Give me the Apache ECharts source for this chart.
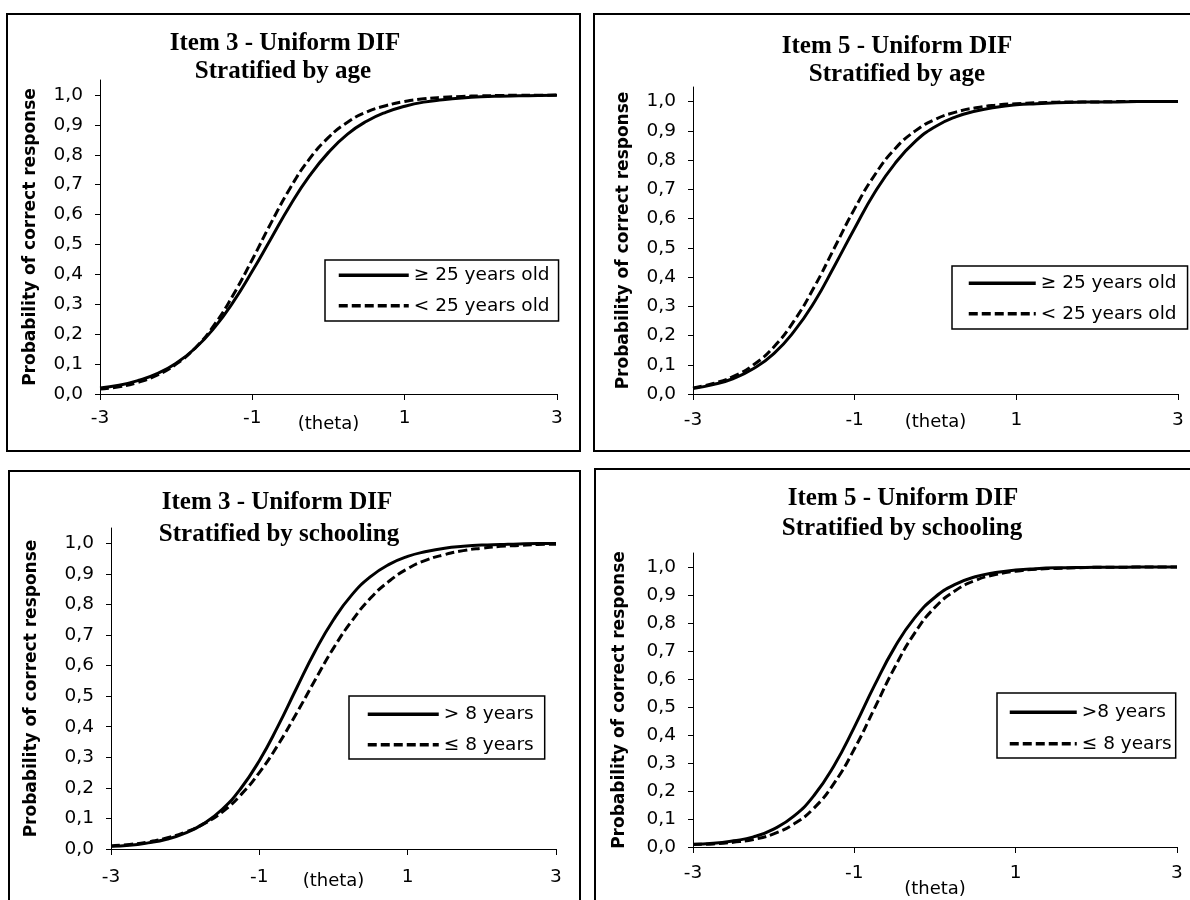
<!DOCTYPE html>
<html><head><meta charset="utf-8">
<script src="https://cdn.jsdelivr.net/npm/echarts@6/dist/echarts.min.js"></script>
<style>html,body{margin:0;padding:0;background:#fff}#c{width:1190px;height:900px}</style>
</head><body><div id="c"></div>
<script>
// ---- data ----
const theta = [-3,-2.75,-2.5,-2.25,-2,-1.75,-1.5,-1.25,-1,-0.75,-0.5,-0.25,0,0.25,0.5,0.75,1,1.25,1.5,1.75,2,2.25,2.5,2.75,3];
const item3AgeOld   = [0.020,0.029,0.045,0.068,0.103,0.153,0.221,0.308,0.411,0.522,0.632,0.729,0.808,0.869,0.912,0.942,0.962,0.976,0.984,0.990,0.994,0.996,0.997,0.998,0.999];
const item3AgeYoung = [0.017,0.024,0.039,0.063,0.100,0.154,0.231,0.332,0.450,0.574,0.690,0.786,0.858,0.909,0.943,0.964,0.978,0.987,0.992,0.995,0.997,0.998,0.999,0.999,1.000];
const item5AgeOld   = [0.019,0.032,0.053,0.087,0.138,0.214,0.314,0.438,0.567,0.690,0.789,0.864,0.915,0.948,0.968,0.981,0.989,0.993,0.996,0.998,0.999,0.999,1.000,1.000,1.000];
const item5AgeYoung = [0.021,0.036,0.060,0.100,0.161,0.250,0.366,0.500,0.634,0.750,0.839,0.900,0.940,0.964,0.979,0.988,0.993,0.996,0.998,0.999,0.999,1.000,1.000,1.000,1.000];
const item3SchHigh  = [0.009,0.012,0.020,0.032,0.052,0.083,0.130,0.198,0.289,0.401,0.525,0.646,0.750,0.832,0.891,0.931,0.957,0.973,0.984,0.990,0.994,0.996,0.998,0.999,0.999];
const item3SchLow   = [0.010,0.015,0.023,0.036,0.055,0.082,0.121,0.177,0.250,0.340,0.443,0.552,0.657,0.747,0.821,0.876,0.917,0.945,0.963,0.976,0.984,0.990,0.993,0.996,0.997];
const item5SchHigh  = [0.010,0.013,0.022,0.036,0.064,0.110,0.184,0.291,0.428,0.577,0.713,0.819,0.892,0.938,0.965,0.980,0.989,0.994,0.997,0.998,0.999,0.999,1.000,1.000,1.000];
const item5SchLow   = [0.009,0.011,0.017,0.027,0.047,0.082,0.139,0.228,0.350,0.495,0.641,0.765,0.856,0.915,0.952,0.973,0.985,0.992,0.995,0.997,0.999,0.999,1.000,1.000,1.000];
const xTicks = [-3,-1,1,3];
const yTicks = [0,0.1,0.2,0.3,0.4,0.5,0.6,0.7,0.8,0.9,1.0];
const titlesLine1 = ['Item 3 - Uniform DIF','Item 5 - Uniform DIF','Item 3 - Uniform DIF','Item 5 - Uniform DIF'];
const titlesLine2 = ['Stratified by age','Stratified by age','Stratified by schooling','Stratified by schooling'];
const legendNames = [['≥ 25 years old','< 25 years old'],['≥ 25 years old','< 25 years old'],['> 8 years','≤ 8 years'],['>8 years','≤ 8 years']];
const seriesData = [[item3AgeOld,item3AgeYoung],[item5AgeOld,item5AgeYoung],[item3SchHigh,item3SchLow],[item5SchHigh,item5SchLow]];
const xName = '(theta)';
const yName = 'Probability of correct response';

// ---- layout ----
const layout = [
  {grid:{left:100,right:633,top:80,bottom:506}, box:[7,14,573,437], t1:[285,44], t2:[283,72],
   leg:{left:325,top:260,itemWidth:70,itemGap:11.5,padding:[5.75,9,5.75,12]}, xGap:21, yGap:61, xMargin:15},
  {grid:{left:693,right:12,top:87,bottom:506}, box:[594,14,597,437], t1:[897,47], t2:[897,75],
   leg:{left:952,top:266,itemWidth:67,itemGap:11.5,padding:[7.75,11,5.75,15]}, xGap:19, yGap:61, xMargin:17},
  {grid:{left:111,right:634,top:528,bottom:51}, box:[9,471,571,440], t1:[277,503], t2:[279,535],
   leg:{left:349,top:696,itemWidth:71,itemGap:11.5,padding:[8.75,11,4.75,17]}, xGap:23, yGap:71, xMargin:19},
  {grid:{left:693,right:13,top:553,bottom:53}, box:[595,469,596,440], t1:[903,499], t2:[902,529],
   leg:{left:997,top:693,itemWidth:67,itemGap:12.5,padding:[9.75,4,4.75,11]}, xGap:33, yGap:65, xMargin:17}
];

const sans = 'DejaVu Sans';
const grids = [], xAxes = [], yAxes = [], series = [], legends = [], graphics = [];
layout.forEach((L, i) => {
  grids.push(L.grid);
  xAxes.push({
    type:'value', gridIndex:i, min:-3, max:3,
    name:xName, nameLocation:'middle', nameGap:L.xGap, nameMoveOverlap:false,
    nameTextStyle:{fontFamily:sans, fontSize:18, color:'#000'},
    axisLine:{onZero:false, lineStyle:{color:'#000', width:1}},
    axisTick:{show:true, length:6, customValues:xTicks, lineStyle:{color:'#000'}},
    axisLabel:{customValues:xTicks, margin:L.xMargin, fontFamily:sans, fontSize:18.5, color:'#000',
      formatter:v => String(v)},
    splitLine:{show:false}
  });
  yAxes.push({
    type:'value', gridIndex:i, min:0, max:1.05,
    name:yName, nameLocation:'middle', nameRotate:90, nameGap:L.yGap,
    nameTextStyle:{fontFamily:sans, fontWeight:'bold', fontSize:17, color:'#000'},
    axisLine:{show:true, onZero:false, lineStyle:{color:'#000', width:1}},
    axisTick:{show:true, length:5, customValues:yTicks, lineStyle:{color:'#000'}},
    axisLabel:{customValues:yTicks, margin:17, fontFamily:sans, fontSize:18.5, color:'#000',
      formatter:v => v.toFixed(1).replace('.', ',')},
    splitLine:{show:false}
  });
  const names = legendNames[i];
  seriesData[i].forEach((arr, k) => {
    series.push({
      type:'line', name:names[k], xAxisIndex:i, yAxisIndex:i,
      data: theta.map((t, j) => [t, arr[j]]),
      smooth:true, symbol:'none', showSymbol:false,
      lineStyle:{color:'#000', width:3, type: k === 0 ? 'solid' : [9,4], cap:'butt', join:'round'},
      itemStyle:{color:'#000'},
      z: 3 + k
    });
  });
  legends.push({
    orient:'vertical', left:L.leg.left, top:L.leg.top, data:names,
    itemWidth:L.leg.itemWidth, itemHeight:14, itemGap:L.leg.itemGap, padding:L.leg.padding,
    borderColor:'#000', borderWidth:1.5, backgroundColor:'#fff', selectedMode:false,
    itemStyle:{opacity:0},
    lineStyle:{width:3.5, type:'inherit', color:'#000'},
    textStyle:{fontFamily:sans, fontSize:18.5, color:'#000'}
  });
  graphics.push({type:'rect', z:0, silent:true,
    shape:{x:L.box[0], y:L.box[1], width:L.box[2], height:L.box[3]},
    style:{fill:'none', stroke:'#000', lineWidth:2}});
  graphics.push({type:'text', x:L.t1[0], y:L.t1[1], silent:true,
    style:{text:titlesLine1[i], font:'bold 25px "Liberation Serif"', fill:'#000', align:'center', verticalAlign:'middle'}});
  graphics.push({type:'text', x:L.t2[0], y:L.t2[1], silent:true,
    style:{text:titlesLine2[i], font:'bold 25px "Liberation Serif"', fill:'#000', align:'center', verticalAlign:'middle'}});
});

const chart = echarts.init(document.getElementById('c'), null, {renderer:'canvas'});
chart.setOption({
  animation:false, backgroundColor:'#fff',
  grid:grids, xAxis:xAxes, yAxis:yAxes, series:series, legend:legends, graphic:graphics
});
</script></body></html>
